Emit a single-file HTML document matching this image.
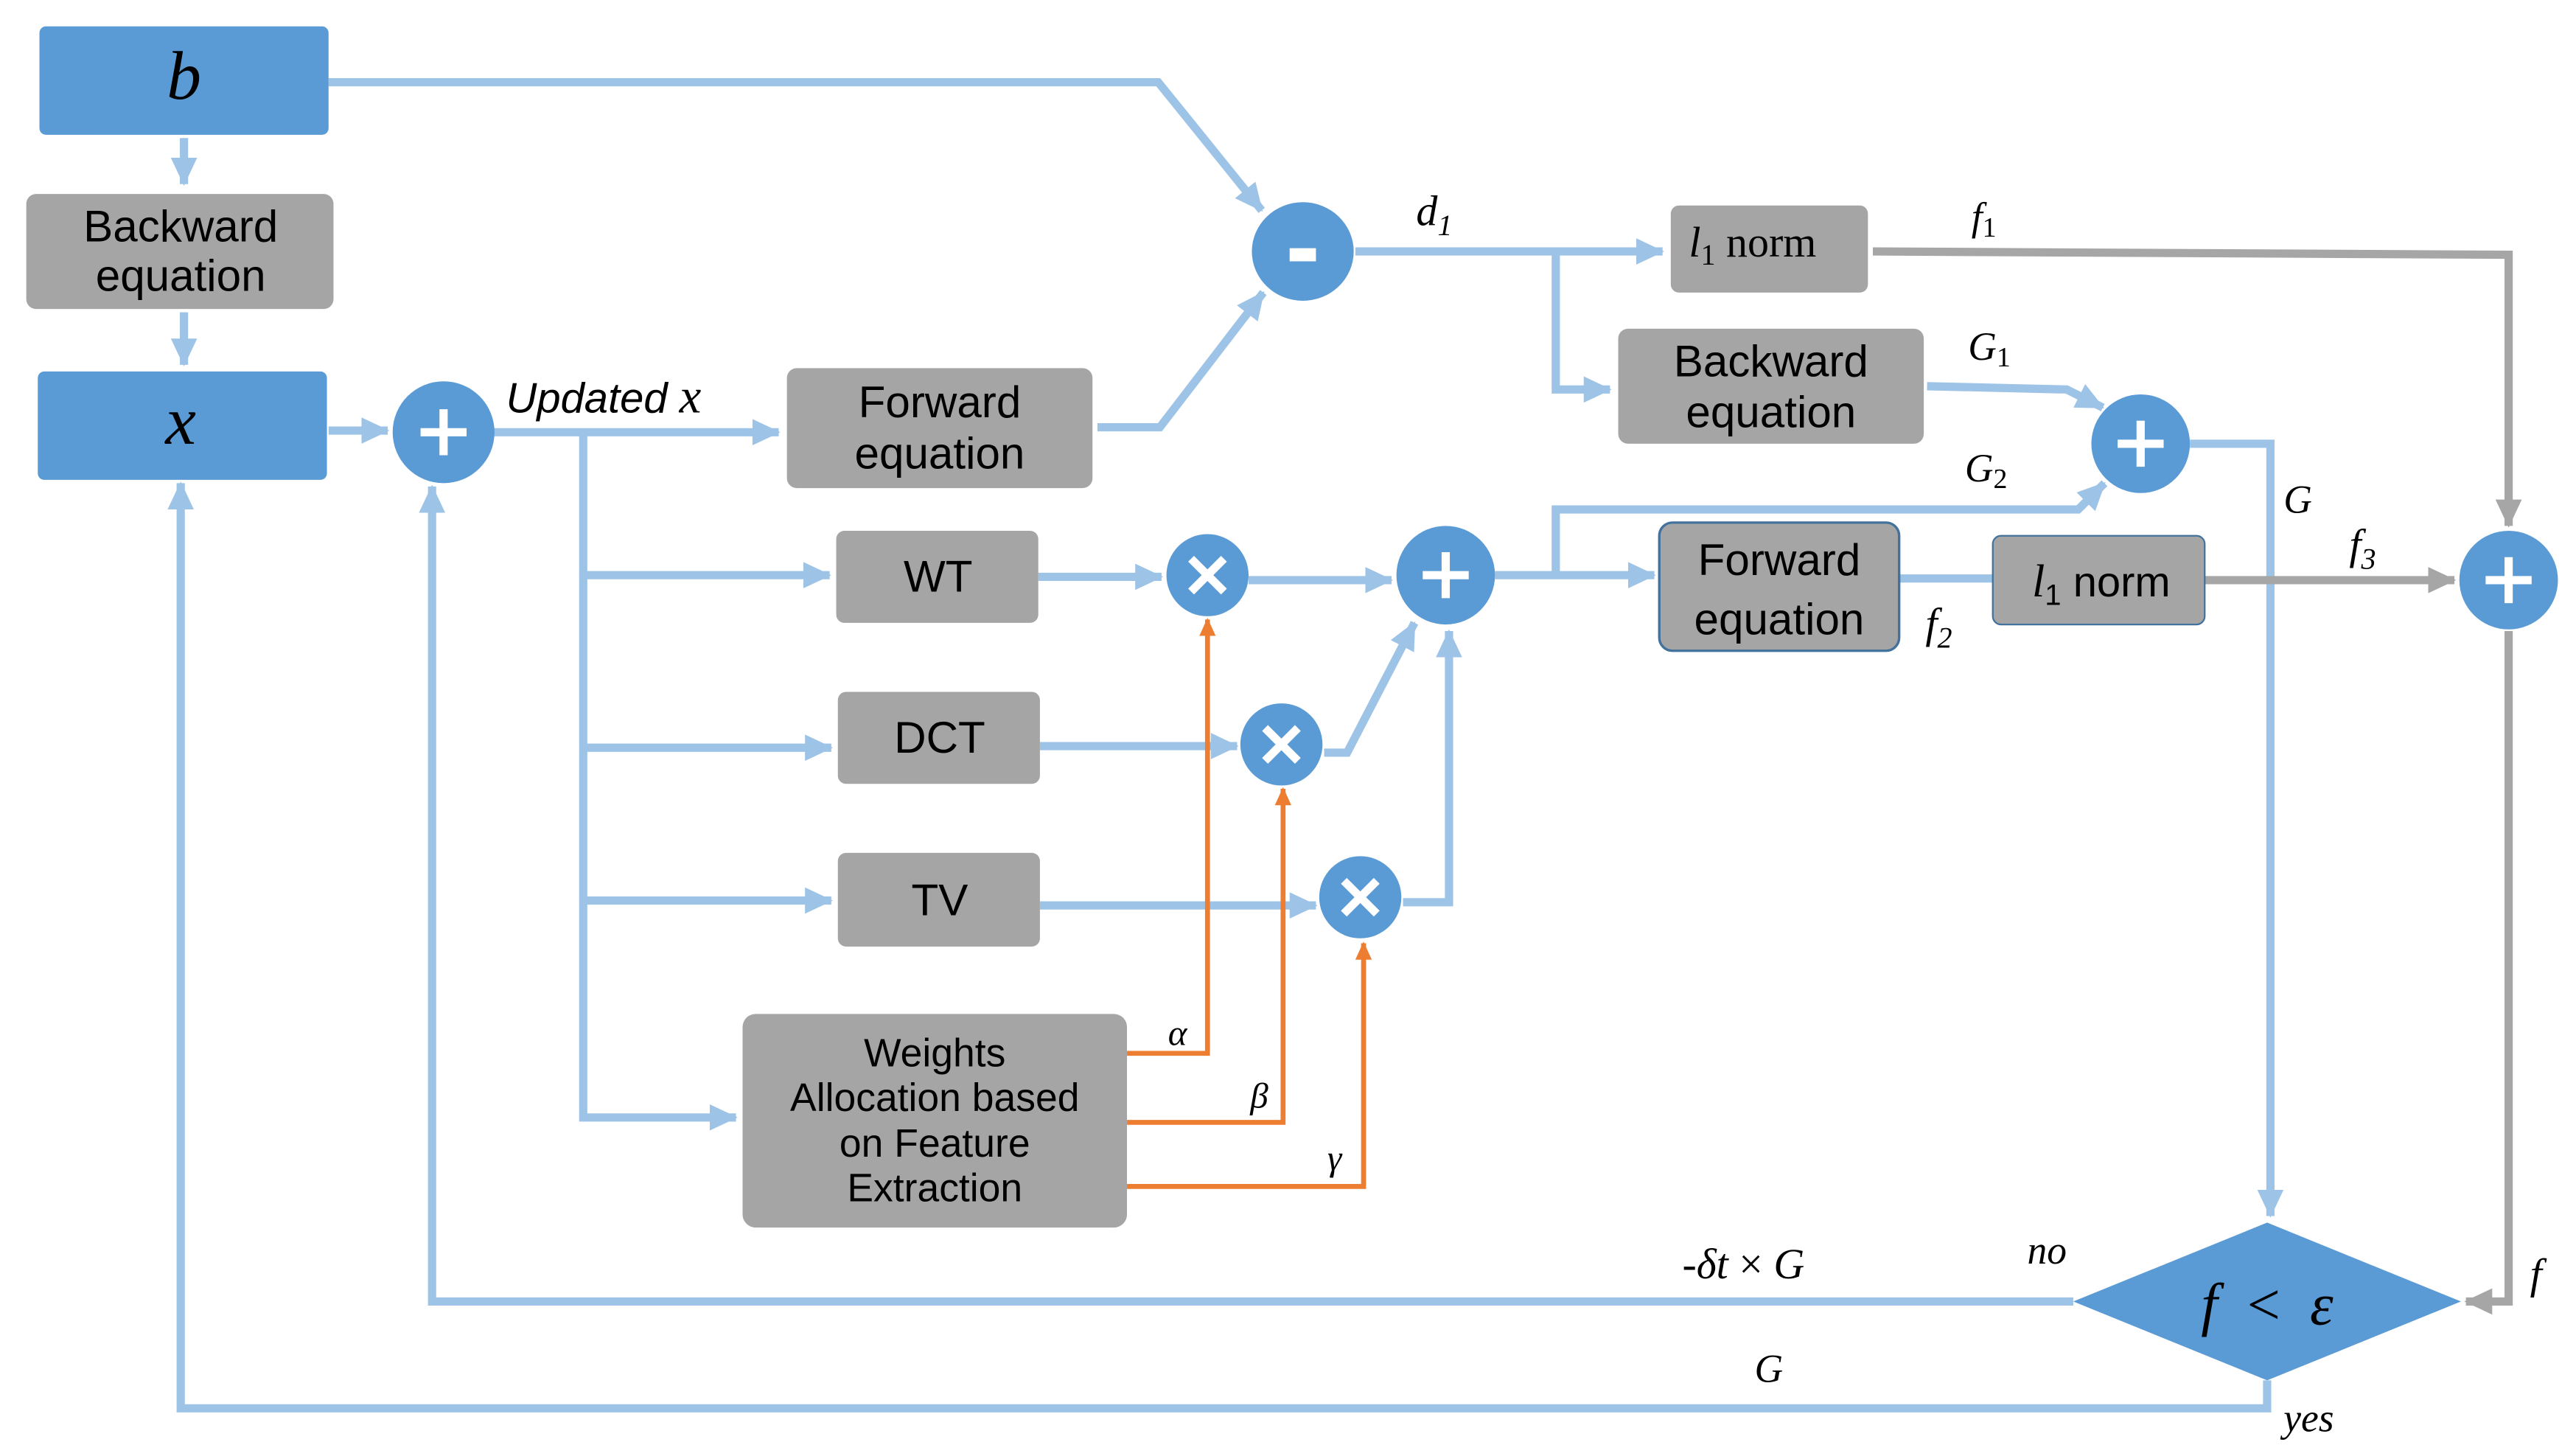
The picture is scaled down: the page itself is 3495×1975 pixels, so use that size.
<!DOCTYPE html>
<html><head><meta charset="utf-8"><style>html,body{margin:0;padding:0;background:#fff}svg{display:block}</style></head>
<body>
<svg width="3495" height="1975" viewBox="0 0 1568 886" xmlns="http://www.w3.org/2000/svg">
<defs>
<marker id="ab" markerUnits="userSpaceOnUse" markerWidth="18" markerHeight="18" refX="16" refY="9" orient="auto"><path d="M0,1 L17,9 L0,17 Z" fill="#9dc3e6"/></marker>
<marker id="ag" markerUnits="userSpaceOnUse" markerWidth="18" markerHeight="18" refX="16" refY="9" orient="auto"><path d="M0,1 L17,9 L0,17 Z" fill="#a6a6a6"/></marker>
<marker id="ao" markerUnits="userSpaceOnUse" markerWidth="12" markerHeight="12" refX="10" refY="6" orient="auto"><path d="M0,1 L11,6 L0,11 Z" fill="#ed7d31"/></marker>
</defs>
<g fill="none" stroke="#9dc3e6" stroke-width="5">
<path d="M112,84 V112" marker-end="url(#ab)"/>
<path d="M112,190 V222" marker-end="url(#ab)"/>
<path d="M200,262 H236" marker-end="url(#ab)"/>
<path d="M300,263 H474" marker-end="url(#ab)"/>
<path d="M200,50 H705 L768,128" marker-end="url(#ab)"/>
<path d="M668,260 H706 L769,178" marker-end="url(#ab)"/>
<path d="M825,153 H1012" marker-end="url(#ab)"/>
<path d="M947,153 V237 H980" marker-end="url(#ab)"/>
<path d="M1173,235 L1258,237 L1280,248" marker-end="url(#ab)"/>
<path d="M355,263 V680 H448" marker-end="url(#ab)"/>
<path d="M355,350 H505" marker-end="url(#ab)"/>
<path d="M355,455 H506" marker-end="url(#ab)"/>
<path d="M355,548 H506" marker-end="url(#ab)"/>
<path d="M632,351 H707" marker-end="url(#ab)"/>
<path d="M760,353 H847" marker-end="url(#ab)"/>
<path d="M633,454 H753" marker-end="url(#ab)"/>
<path d="M806,458 H820 L861,379" marker-end="url(#ab)"/>
<path d="M633,551 H801" marker-end="url(#ab)"/>
<path d="M854,549 H882 V384" marker-end="url(#ab)"/>
<path d="M910,350 H1007" marker-end="url(#ab)"/>
<path d="M947,350 V310 H1265 L1281,294" marker-end="url(#ab)"/>
<path d="M1156,352 H1213"/>
<path d="M1333,270 H1382 V740" marker-end="url(#ab)"/>
<path d="M1262,792 H263 V296" marker-end="url(#ab)"/>
<path d="M1380,840 V857 H110 V294" marker-end="url(#ab)"/>
</g>
<g fill="none" stroke="#a6a6a6" stroke-width="5">
<path d="M1140,153 L1527,155 V320" marker-end="url(#ag)"/>
<path d="M1342,353 H1494" marker-end="url(#ag)"/>
<path d="M1527,384 V792 H1501" marker-end="url(#ag)"/>
</g>
<g fill="none" stroke="#ed7d31" stroke-width="3">
<path d="M686,641 H735 V377" marker-end="url(#ao)"/>
<path d="M686,683 H781 V480" marker-end="url(#ao)"/>
<path d="M686,722 H830 V574" marker-end="url(#ao)"/>
</g>
<g fill="#5b9bd5">
<rect x="24" y="16" width="176" height="66" rx="4"/>
<rect x="23" y="226" width="176" height="66" rx="4"/>
<circle cx="270" cy="263" r="31"/>
<ellipse cx="793" cy="153" rx="31" ry="30"/>
<circle cx="1303" cy="270" r="30"/>
<circle cx="880" cy="350" r="30"/>
<circle cx="1527" cy="353" r="30"/>
<circle cx="735" cy="350" r="25"/>
<circle cx="780" cy="453" r="25"/>
<circle cx="828" cy="546" r="25"/>
<path d="M1262,792 L1380,744 L1498,792 L1380,840 Z"/>
</g>
<g fill="#a5a5a5">
<rect x="16" y="118" width="187" height="70" rx="6"/>
<rect x="479" y="224" width="186" height="73" rx="6"/>
<rect x="1017" y="125" width="120" height="53" rx="5"/>
<rect x="985" y="200" width="186" height="70" rx="6"/>
<rect x="1010" y="318" width="146" height="78" rx="8" stroke="#41719c" stroke-width="1.5"/>
<rect x="1213" y="326" width="129" height="54" rx="5" stroke="#41719c" stroke-width="1"/>
<rect x="509" y="323" width="123" height="56" rx="5"/>
<rect x="510" y="421" width="123" height="56" rx="5"/>
<rect x="510" y="519" width="123" height="57" rx="5"/>
<rect x="452" y="617" width="234" height="130" rx="8"/>
</g>
<g stroke="#fff" stroke-width="5" fill="none">
<path d="M256,263 H284 M270,249 V277"/>
<path d="M1289,270 H1317 M1303,256 V284"/>
<path d="M866,350 H894 M880,336 V364"/>
<path d="M1513,353 H1541 M1527,339 V367"/>
<path d="M725,340 L745,360 M745,340 L725,360"/>
<path d="M770,443 L790,463 M790,443 L770,463"/>
<path d="M818,536 L838,556 M838,536 L818,556"/>
</g>
<rect x="785" y="151" width="16" height="8" fill="#fff"/>
<g font-family="Liberation Sans, sans-serif" font-size="27" fill="#000" text-anchor="middle">
<text x="110" y="147">Backward</text><text x="110" y="177">equation</text>
<text x="572" y="254">Forward</text><text x="572" y="285">equation</text>
<text x="1078" y="229">Backward</text><text x="1078" y="260">equation</text>
<text x="1083" y="350">Forward</text><text x="1083" y="386">equation</text>
<text x="571" y="360">WT</text>
<text x="572" y="458">DCT</text>
<text x="572" y="557">TV</text>
<g font-size="24"><text x="569" y="649">Weights</text><text x="569" y="676">Allocation based</text><text x="569" y="704">on Feature</text><text x="569" y="731">Extraction</text></g>
<text x="308" y="251" text-anchor="start" font-style="italic" font-size="26">Updated <tspan font-family="Liberation Serif, serif" font-size="30">x</tspan></text>
<text x="1279" y="363" font-size="26"><tspan font-family="Liberation Serif, serif" font-style="italic" font-size="28">l</tspan><tspan font-size="18" dy="5">1</tspan><tspan dy="-5"> norm</tspan></text>
</g>
<g font-family="Liberation Serif, serif" font-style="italic" fill="#000">
<text x="112" y="60" font-size="42" text-anchor="middle">b</text>
<text x="110" y="270" font-size="42" text-anchor="middle">x</text>
<text x="862" y="137" font-size="26">d<tspan font-size="18" dy="6">1</tspan></text>
<text x="1028" y="156" font-size="26" font-style="normal"><tspan font-style="italic">l</tspan><tspan font-size="18" dy="5">1</tspan><tspan dy="-5"> norm</tspan></text>
<text x="1200" y="140" font-size="24">f<tspan font-size="17" dy="4" font-style="normal">1</tspan></text>
<text x="1198" y="219" font-size="24">G<tspan font-size="17" dy="4" font-style="normal">1</tspan></text>
<text x="1196" y="293" font-size="24">G<tspan font-size="17" dy="4" font-style="normal">2</tspan></text>
<text x="1390" y="312" font-size="24">G</text>
<text x="1172" y="388" font-size="26">f<tspan font-size="18" dy="6">2</tspan></text>
<text x="1430" y="340" font-size="26">f<tspan font-size="18" dy="6">3</tspan></text>
<text x="711" y="636" font-size="22">α</text>
<text x="761" y="674" font-size="22">β</text>
<text x="808" y="712" font-size="22">γ</text>
<text x="1024" y="778" font-size="26" font-style="normal">-<tspan font-style="italic">δt</tspan> × <tspan font-style="italic">G</tspan></text>
<text x="1234" y="769" font-size="24">no</text>
<text x="1540" y="784" font-size="26">f</text>
<text x="1068" y="841" font-size="24">G</text>
<text x="1390" y="871" font-size="24">yes</text>
<text x="1380" y="806" font-size="36" text-anchor="middle">f&#160;&#160;<tspan font-style="normal">&lt;</tspan>&#160;&#160;ε</text>
</g>
</svg>
</body></html>
